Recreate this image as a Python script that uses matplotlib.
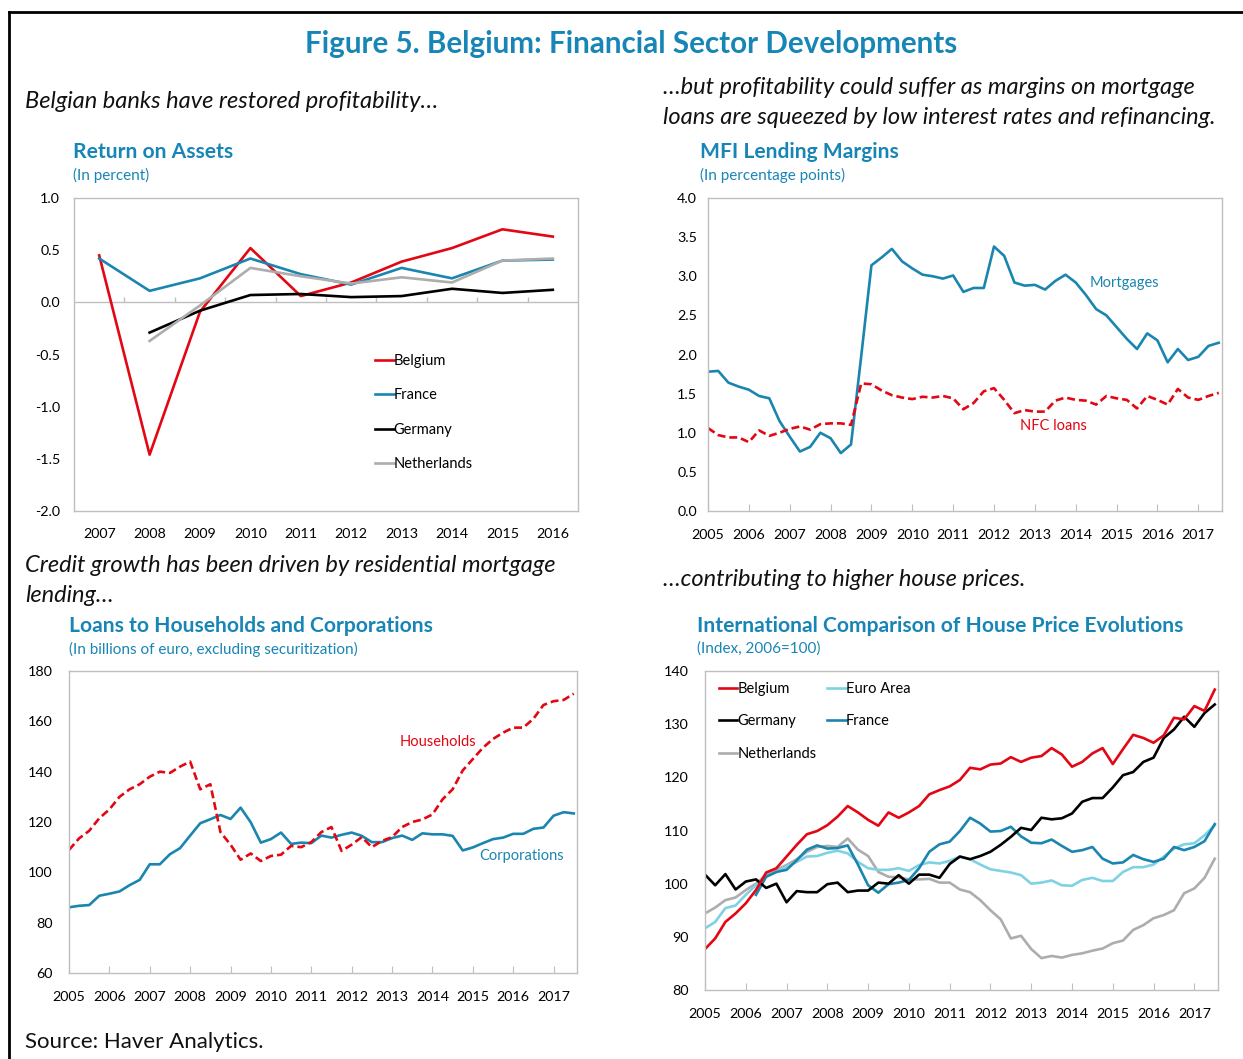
import matplotlib
matplotlib.use("Agg")
import matplotlib.pyplot as plt
import numpy as np
from matplotlib.lines import Line2D

plt.rcParams['font.family'] = ['Lato', 'DejaVu Sans']

W, H = 1243, 1059
BLUE_T = '#1785b6'
RED = '#e30613'
BLUE = '#1a86b0'
LIGHT = '#7fd2e3'
GRAY = '#adadad'
SPINE = '#bfbfbf'

# ---- Return on assets (annual) ----
roa_years = [2007, 2008, 2009, 2010, 2011, 2012, 2013, 2014, 2015, 2016]
roa_belgium = [0.45, -1.46, -0.09, 0.52, 0.06, 0.19, 0.39, 0.52, 0.70, 0.63]
roa_france = [0.42, 0.11, 0.23, 0.42, 0.27, 0.17, 0.33, 0.23, 0.40, 0.41]
roa_germany = [None, -0.29, -0.08, 0.07, 0.08, 0.05, 0.06, 0.13, 0.09, 0.12]
roa_netherlands = [None, -0.37, -0.03, 0.33, 0.25, 0.18, 0.24, 0.19, 0.40, 0.42]

# ---- MFI lending margins (quarterly, 2005Q1-2017Q3) ----
mortgages = [1.78, 1.79, 1.64, 1.59, 1.55, 1.47, 1.44, 1.15, 0.95, 0.76,
             0.82, 1.00, 0.93, 0.74, 0.85, 1.98, 3.14, 3.24, 3.35, 3.19,
             3.10, 3.02, 3.00, 2.97, 3.01, 2.80, 2.85, 2.85, 3.38, 3.26,
             2.92, 2.88, 2.89, 2.83, 2.94, 3.02, 2.92, 2.76, 2.58, 2.50,
             2.35, 2.20, 2.07, 2.27, 2.18, 1.90, 2.07, 1.93, 1.97, 2.11,
             2.15]
nfc_loans = [1.06, 0.97, 0.94, 0.94, 0.88, 1.03, 0.96, 1.00, 1.05, 1.08,
             1.04, 1.11, 1.12, 1.12, 1.10, 1.63, 1.62, 1.54, 1.48, 1.45,
             1.43, 1.46, 1.45, 1.47, 1.44, 1.30, 1.38, 1.53, 1.57, 1.42,
             1.25, 1.29, 1.27, 1.27, 1.41, 1.45, 1.42, 1.41, 1.36, 1.47,
             1.44, 1.42, 1.31, 1.47, 1.42, 1.36, 1.56, 1.45, 1.42, 1.47,
             1.51]

# ---- Loans to households and corporations (quarterly) ----
corporations = [86.1, 86.7, 87.0, 90.7, 91.5, 92.4, 94.9, 97.0, 103.2, 103.2,
                107.2, 109.6, 114.6, 119.5, 121.1, 122.8, 121.2, 125.7, 119.9, 111.8,
                113.2, 115.8, 111.3, 111.8, 111.6, 114.6, 113.8, 114.9, 115.8, 114.5,
                112.0, 112.0, 113.6, 114.6, 112.9, 115.5, 115.1, 115.1, 114.5, 108.7,
                109.9, 111.6, 113.2, 113.8, 115.3, 115.3, 117.3, 117.8, 122.5, 123.9,
                123.4]
households = [108.9, 113.5, 116.5, 121.5, 125.0, 130.0, 133.0, 135.0, 138.0, 140.0,
              139.5, 142.0, 144.0, 133.0, 135.0, 116.0, 111.0, 105.0, 107.5, 104.5,
              106.5, 107.0, 110.5, 110.0, 112.0, 116.0, 118.0, 108.5, 111.0, 114.0,
              110.0, 112.5, 114.0, 118.0, 120.0, 121.0, 123.0, 129.0, 133.0, 140.5,
              145.0, 149.5, 153.0, 155.5, 157.5, 157.5, 161.0, 166.5, 168.0, 168.5,
              171.0]

# ---- House prices, index 2006=100 (quarterly) ----
hp_belgium = [87.7, 89.7, 92.8, 94.4, 96.3, 98.8, 102.1, 102.9, 105.1, 107.3,
              109.3, 109.9, 111.0, 112.6, 114.6, 113.4, 112.0, 110.9, 113.4, 112.4,
              113.4, 114.6, 116.8, 117.6, 118.3, 119.5, 121.8, 121.5, 122.4, 122.6,
              123.8, 122.9, 123.7, 124.0, 125.5, 124.3, 122.0, 122.9, 124.5, 125.5,
              122.5, 125.3, 128.0, 127.4, 126.5, 127.9, 131.2, 130.9, 133.4, 132.5,
              136.5]
hp_germany = [101.7, 99.7, 101.8, 98.9, 100.4, 100.8, 99.2, 100.0, 96.5, 98.6,
              98.4, 98.4, 99.9, 100.2, 98.4, 98.7, 98.7, 100.2, 100.0, 101.6,
              100.0, 101.7, 101.7, 101.1, 103.7, 105.1, 104.6, 105.2, 106.0, 107.3,
              108.8, 110.5, 110.1, 112.4, 112.1, 112.3, 113.2, 115.4, 116.1, 116.1,
              118.1, 120.4, 121.0, 122.9, 123.7, 127.4, 129.0, 131.4, 129.5, 132.1,
              133.7]
hp_netherlands = [94.4, 95.5, 96.9, 97.4, 98.8, 100.0, 101.6, 102.6, 103.5, 104.6,
                  106.0, 106.9, 107.1, 106.9, 108.5, 106.4, 105.2, 102.2, 101.3, 101.2,
                  100.8, 100.8, 100.9, 100.2, 100.2, 98.9, 98.4, 96.9, 95.0, 93.3,
                  89.7, 90.2, 87.7, 86.0, 86.4, 86.1, 86.6, 86.9, 87.4, 87.8,
                  88.8, 89.3, 91.3, 92.2, 93.5, 94.1, 95.0, 98.2, 99.1, 101.1,
                  104.7]
hp_euro_area = [91.6, 92.8, 95.4, 95.9, 97.9, 99.7, 101.3, 102.2, 103.2, 104.1,
                105.1, 105.2, 105.8, 106.2, 105.7, 104.1, 102.9, 102.6, 102.6, 102.9,
                102.4, 103.5, 104.0, 103.8, 104.3, 105.1, 104.6, 103.6, 102.7, 102.4,
                102.1, 101.6, 100.0, 100.2, 100.6, 99.7, 99.6, 100.7, 101.1, 100.5,
                100.5, 102.2, 103.1, 103.1, 103.6, 105.1, 106.6, 107.4, 107.6, 109.1,
                111.0]
hp_france = [None, None, None, None, None, 97.9, 101.3, 102.2, 102.6, 104.4,
             106.4, 107.2, 106.6, 106.7, 107.2, 103.6, 99.7, 98.3, 99.9, 100.2,
             100.7, 102.9, 106.0, 107.4, 107.9, 109.9, 112.4, 111.3, 109.8, 109.9,
             110.7, 108.9, 107.7, 107.6, 108.3, 107.1, 106.0, 106.3, 106.9, 104.7,
             103.8, 104.0, 105.4, 104.6, 104.1, 104.7, 106.9, 106.3, 106.9, 108.0,
             111.2]

quarters = 2005 + np.arange(len(mortgages)) * 0.25
years_q = list(range(2005, 2018))


def arr(v):
    return np.array([np.nan if x is None else x for x in v], dtype=float)


def box(l, t, r, b):
    return [l / W, 1 - b / H, (r - l) / W, (b - t) / H]


def ftext(x, y, s, **kw):
    fig.text(x / W, 1 - y / H, s, **kw)


def style(ax):
    for sp in ax.spines.values():
        sp.set_color(SPINE)
        sp.set_linewidth(1.0)
    ax.tick_params(axis='y', length=0, labelsize=10.3, pad=10)
    ax.tick_params(axis='x', labelsize=10.3)


fig = plt.figure(figsize=(W / 100, H / 100), dpi=100)

# figure frame
fig.add_artist(Line2D([9 / W, 9 / W], [0, 1 - 12 / H], color='black', lw=2))
fig.add_artist(Line2D([9 / W, 1], [1 - 12 / H, 1 - 12 / H], color='black', lw=2))

ftext(631, 44, 'Figure 5. Belgium: Financial Sector Developments', color=BLUE_T,
      fontsize=21.3, fontweight='bold', ha='center', va='center')

ital = dict(fontsize=17, style='italic', va='center', color='#111111')
ftext(25, 102, 'Belgian banks have restored profitability\u2026', **ital)
ftext(663, 87, '\u2026but profitability could suffer as margins on mortgage', **ital)
ftext(663, 117, 'loans are squeezed by low interest rates and refinancing.', **ital)
ftext(25, 566, 'Credit growth has been driven by residential mortgage', **ital)
ftext(25, 596, 'lending\u2026', **ital)
ftext(663, 580, '\u2026contributing to higher house prices.', **ital)
ftext(25, 1042, 'Source: Haver Analytics.', fontsize=16, va='center', color='#111111')

ttl = dict(fontsize=15.1, fontweight='bold', color=BLUE_T, va='center')
sub = dict(fontsize=11, color=BLUE_T, va='center')
ftext(73, 152, 'Return on Assets', **ttl)
ftext(73, 175, '(In percent)', **sub)
ftext(700, 152, 'MFI Lending Margins', **ttl)
ftext(700, 175, '(In percentage points)', **sub)
ftext(69, 626, 'Loans to Households and Corporations', **ttl)
ftext(69, 649, '(In billions of euro, excluding securitization)', **sub)
ftext(697, 626, 'International Comparison of House Price Evolutions', **ttl)
ftext(697, 649, '(Index, 2006=100)', **sub)

LW = 1.9

# ---- panel 1 ----
ax1 = fig.add_axes(box(74, 198, 578, 511))
style(ax1)
ax1.plot(roa_years, roa_belgium, color=RED, lw=LW, label='Belgium')
ax1.plot(roa_years, roa_france, color=BLUE, lw=LW, label='France')
ax1.plot(roa_years, arr(roa_germany), color='black', lw=LW, label='Germany')
ax1.plot(roa_years, arr(roa_netherlands), color=GRAY, lw=LW, label='Netherlands')
ax1.axhline(0, color=SPINE, lw=1.0, zorder=0)
mids = np.array(roa_years[:-1]) + 0.5
ax1.vlines(mids, 0, 0.05, color=SPINE, lw=1.0, zorder=0)
ax1.set_xlim(2006.5, 2016.5)
ax1.set_ylim(-2.0, 1.0)
ax1.set_yticks(np.arange(-2.0, 1.01, 0.5))
ax1.set_yticklabels(['%.1f' % v for v in np.arange(-2.0, 1.01, 0.5)])
ax1.set_xticks(roa_years)
ax1.tick_params(axis='x', length=0, pad=12)
leg = ax1.legend(loc='upper left', bbox_to_anchor=(0.585, 0.52), frameon=False,
                 handlelength=1.3, handletextpad=0.0, labelspacing=1.4, fontsize=10.5,
                 borderaxespad=0)

# ---- panel 2 ----
ax2 = fig.add_axes(box(708, 198, 1222, 511))
style(ax2)
ax2.plot(quarters, mortgages, color=BLUE, lw=LW)
ax2.plot(quarters, nfc_loans, color=RED, lw=LW, ls=(0, (3, 1.5)))
ax2.set_xlim(2005, 2017.58)
ax2.set_ylim(0, 4)
ax2.set_yticks(np.arange(0, 4.01, 0.5))
ax2.set_yticklabels(['%.1f' % v for v in np.arange(0, 4.01, 0.5)])
ax2.set_xticks(years_q)
ax2.tick_params(axis='x', direction='in', length=5, color=SPINE, pad=13)
ax2.tick_params(axis='y', pad=8)
ax2.text(2014.35, 2.91, 'Mortgages', color=BLUE, fontsize=10.5, va='center')
ax2.text(2012.64, 1.09, 'NFC loans', color=RED, fontsize=10.5, va='center')

# ---- panel 3 ----
ax3 = fig.add_axes(box(69, 671, 577, 973))
style(ax3)
ax3.plot(quarters, corporations, color=BLUE, lw=LW)
ax3.plot(quarters, households, color=RED, lw=LW, ls=(0, (3, 1.5)))
ax3.set_xlim(2005, 2017.58)
ax3.set_ylim(60, 180)
ax3.set_yticks(range(60, 181, 20))
ax3.set_xticks(years_q)
ax3.tick_params(axis='x', direction='in', length=5, color=SPINE, pad=13)
ax3.tick_params(axis='y', pad=12)
ax3.text(2013.19, 151.8, 'Households', color=RED, fontsize=10.5, va='center')
ax3.text(2015.17, 106.5, 'Corporations', color=BLUE, fontsize=10.5, va='center')

# ---- panel 4 ----
ax4 = fig.add_axes(box(705, 671, 1218, 990))
style(ax4)
ax4.plot(quarters, hp_netherlands, color=GRAY, lw=LW, label='Netherlands')
ax4.plot(quarters, hp_euro_area, color=LIGHT, lw=LW, label='Euro Area')
ax4.plot(quarters, arr(hp_france), color=BLUE, lw=LW, label='France')
ax4.plot(quarters, hp_germany, color='black', lw=LW, label='Germany')
ax4.plot(quarters, hp_belgium, color=RED, lw=LW, label='Belgium')
ax4.set_xlim(2005, 2017.58)
ax4.set_ylim(80, 140)
ax4.set_yticks(range(80, 141, 10))
ax4.set_xticks(years_q)
ax4.tick_params(axis='x', direction='in', length=5, color=SPINE, pad=13)
ax4.tick_params(axis='y', pad=12)
h, l = ax4.get_legend_handles_labels()
order = ['Belgium', 'Germany', 'Netherlands', 'Euro Area', 'France']
hd = dict(zip(l, h))
ax4.legend([hd[k] for k in order], order, loc='upper left', ncol=2,
           bbox_to_anchor=(0.015, 0.985), frameon=False, handlelength=1.3,
           handletextpad=0.0, labelspacing=1.28, columnspacing=0.7,
           fontsize=10.5, borderaxespad=0)

fig.savefig('out.png', dpi=100)
